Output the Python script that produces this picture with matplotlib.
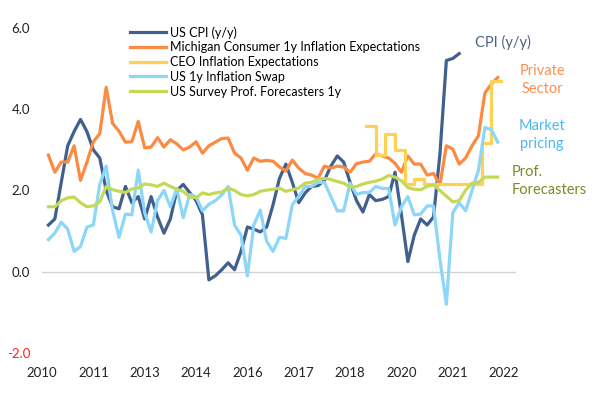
import numpy as np
import matplotlib
matplotlib.use("Agg")
from matplotlib import pyplot as plt

plt.rcParams['font.family'] = ['Lato', 'DejaVu Sans']

# x grid: months since start, one point every 2 months
months = np.arange(2, 2 + 2 * 71, 2)

cpi = [1.15, 1.3, 2.2, 3.1, 3.45, 3.75, 3.45, 3.0, 2.8, 2.0,
       1.6, 1.55, 2.1, 1.7, 1.85, 1.3, 1.85, 1.35, 0.95, 1.3,
       2.0, 2.15, 1.95, 1.75, 1.4, -0.2, -0.1, 0.05, 0.22, 0.05,
       0.5, 1.1, 1.05, 0.98, 1.1, 1.65, 2.3, 2.65, 2.2, 1.7,
       1.94, 2.1, 2.12, 2.25, 2.6, 2.85, 2.7, 2.2, 1.75, 1.47,
       1.9, 1.75, 1.78, 1.85, 2.45, 1.4, 0.25, 0.9, 1.3, 1.15,
       1.35, 2.9, 5.2, 5.25, 5.37]

michigan = [2.87, 2.45, 2.7, 2.7, 3.1, 2.25, 2.7, 3.2, 3.4, 4.54,
            3.65, 3.46, 3.19, 3.2, 3.7, 3.05, 3.07, 3.3, 3.07, 3.25,
            3.15, 3.0, 3.07, 3.2, 2.92, 3.1, 3.19, 3.28, 3.29, 2.92,
            2.8, 2.5, 2.8, 2.72, 2.74, 2.72, 2.58, 2.48, 2.75, 2.55,
            2.42, 2.38, 2.3, 2.6, 2.55, 2.6, 2.58, 2.45, 2.66, 2.7,
            2.72, 2.9, 2.85, 2.8, 2.67, 2.45, 2.85, 2.65, 2.65, 2.38,
            2.42, 2.14, 3.1, 3.02, 2.65, 2.8, 3.1, 3.35, 4.4, 4.62,
            4.78]

swap = [0.79, 0.95, 1.22, 1.05, 0.5, 0.62, 1.1, 1.15, 2.15, 2.6,
        1.5, 0.85, 1.42, 1.4, 2.5, 1.45, 0.98, 1.75, 2.0, 1.6,
        2.05, 1.33, 1.9, 1.85, 1.5, 1.66, 1.75, 1.89, 2.1, 1.15,
        0.9, -0.1, 1.15, 1.52, 0.75, 0.5, 0.85, 0.82, 1.65, 1.85,
        2.1, 2.1, 2.2, 2.2, 1.85, 1.5, 1.5, 2.18, 1.9, 1.95,
        1.95, 2.1, 2.05, 2.05, 1.15, 1.6, 1.85, 1.4, 1.42, 1.62,
        1.62, 0.3, -0.8, 1.45, 1.7, 1.5, 2.0, 2.5, 3.55, 3.5,
        3.19]

spf = [1.6, 1.6, 1.75, 1.82, 1.84, 1.7, 1.6, 1.62, 1.72, 2.1,
       2.02, 1.98, 1.95, 2.04, 2.06, 2.16, 2.14, 2.1, 2.18, 2.1,
       2.03, 1.98, 1.84, 1.82, 1.94, 1.9, 1.94, 1.96, 2.06, 2.0,
       1.9, 1.87, 1.9, 1.98, 2.01, 2.03, 2.06, 1.98, 2.02, 2.06,
       2.18, 2.2, 2.28, 2.3, 2.27, 2.22, 2.18, 2.08, 2.1, 2.16,
       2.2, 2.23, 2.28, 2.37, 2.33, 2.24, 2.07, 2.03, 2.02, 2.1,
       2.14, 2.0, 1.86, 1.72, 1.75, 2.01, 2.18, 2.2, 2.33, 2.33,
       2.33]

# CEO survey is quarterly
ceo_months = np.arange(101, 101 + 3 * 15, 3)
ceo = [3.58, 2.87, 3.39, 3.0, 2.17, 2.28, 2.17, 2.17, 2.17, 2.17,
       2.17, 2.17, 3.17, 4.7, 4.7]

tick_pos = np.arange(0, 145, 16)
tick_labels = ['2010', '2011', '2013', '2014', '2016', '2017', '2018',
               '2020', '2021', '2022']

c_cpi = '#40608f'
c_mich = '#fb8a42'
c_ceo = '#ffd152'
c_swap = '#8cd6f8'
c_spf = '#c5d957'

fig = plt.figure(figsize=(6.04, 4.0), dpi=100)
ax = fig.add_axes([42 / 604, 1 - 353 / 400, (516 - 42) / 604, (353 - 28) / 400])

lw = 2.3
ax.plot(months[:len(cpi)], cpi, color=c_cpi, lw=lw, label='US CPI (y/y)')
ax.plot(months[:len(michigan)], michigan, color=c_mich, lw=lw,
        label='Michigan Consumer 1y Inflation Expectations')
ax.plot(ceo_months, ceo, color=c_ceo, lw=lw, drawstyle='steps-post',
        label='CEO Inflation Expectations')
ax.plot(months[:len(swap)], swap, color=c_swap, lw=lw, label='US 1y Inflation Swap')
ax.plot(months[:len(spf)], spf, color=c_spf, lw=lw,
        label='US Survey Prof. Forecasters 1y')

ax.axhline(0, color='#d4d4d4', lw=1, zorder=0)

ax.set_xlim(0, 147.7)
ax.set_ylim(-2, 6)
ax.set_xticks(tick_pos)
ax.set_xticklabels(tick_labels)
ax.set_yticks([-2, 0, 2, 4, 6])
ax.set_yticklabels(['-2.0', '0.0', '2.0', '4.0', '6.0'])
ax.tick_params(length=0, labelsize=9.5, colors='#222222')
ax.tick_params(axis='y', pad=8.5)
ax.tick_params(axis='x', pad=10)
ax.get_yticklabels()[0].set_color('#ff2020')

for s in ['top', 'bottom', 'left', 'right']:
    ax.spines[s].set_visible(False)

ax.legend(loc='upper left', bbox_to_anchor=(130 / 604, 1 - 26 / 400),
          bbox_transform=fig.transFigure, frameon=False, fontsize=9,
          handlelength=2.9, handletextpad=0.3, labelspacing=0.22,
          borderpad=0, borderaxespad=0)

# series annotations on the right
fig.text(503 / 604, 1 - 42 / 400, 'CPI (y/y)', color='#4a6283',
         fontsize=10.5, ha='center', va='center')
fig.text(542 / 604, 1 - 80 / 400, 'Private\nSector', color='#fb8f50',
         fontsize=10.5, ha='center', va='center', linespacing=1.3)
fig.text(542 / 604, 1 - 135 / 400, 'Market\npricing', color='#4db8f0',
         fontsize=10.5, ha='center', va='center', linespacing=1.3)
fig.text(512 / 604, 1 - 181 / 400, 'Prof.\nForecasters', color='#7d8a22',
         fontsize=10.5, ha='left', va='center', linespacing=1.3)

fig.savefig('out.png', dpi=100)
